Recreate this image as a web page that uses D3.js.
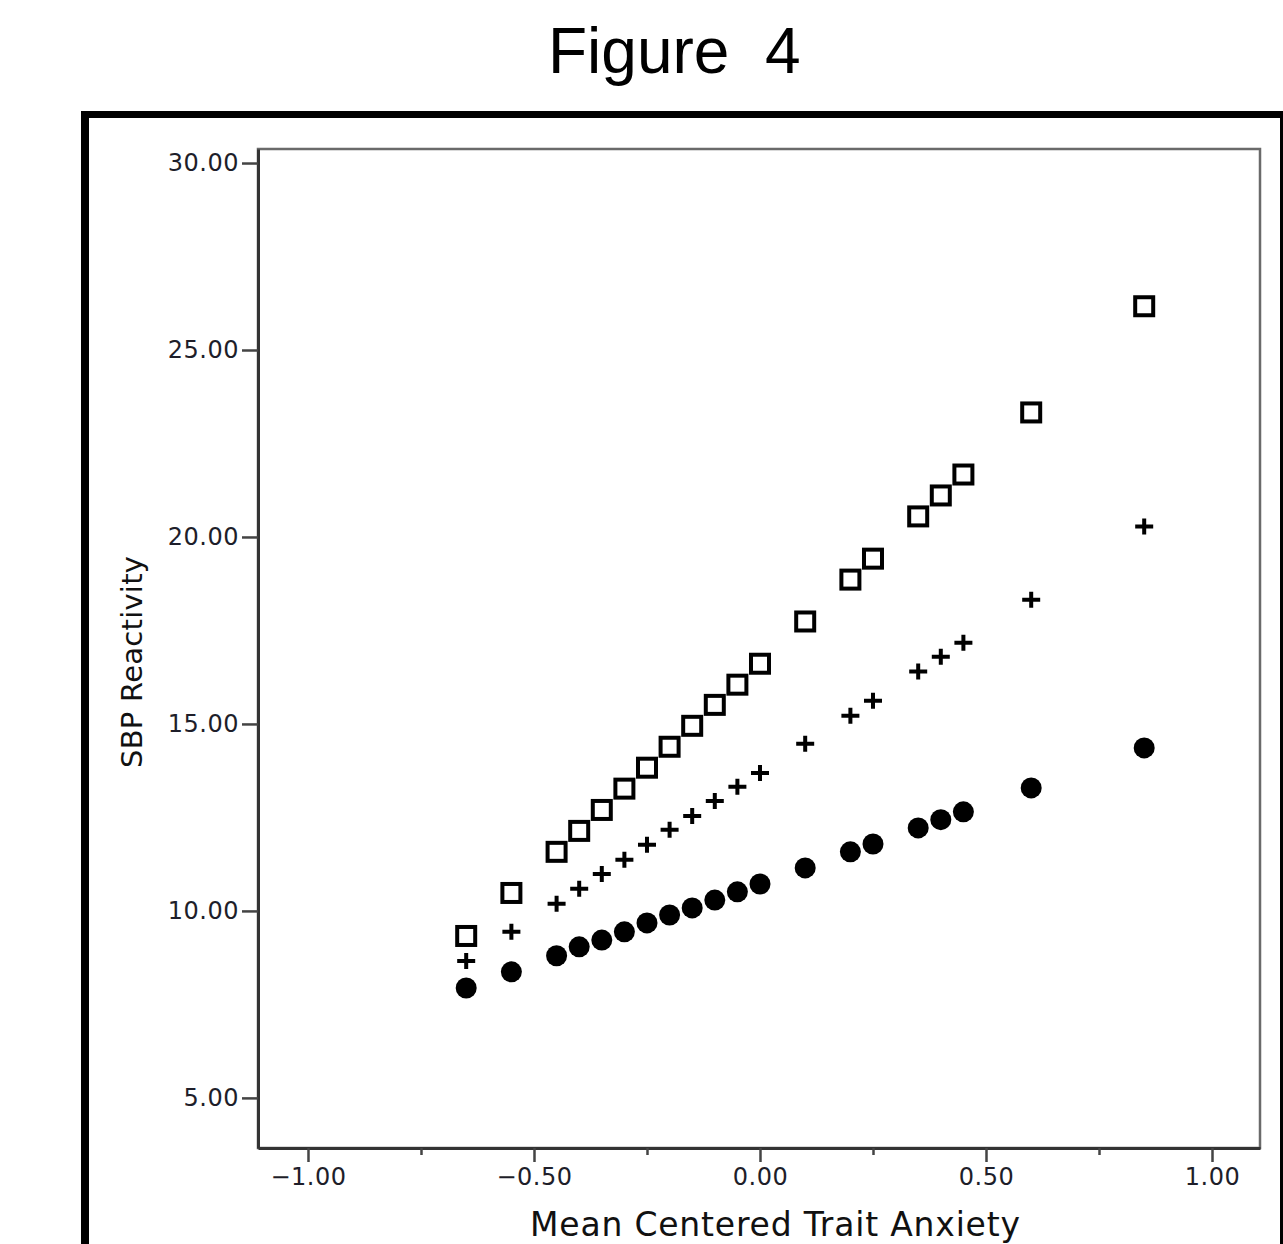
<!DOCTYPE html>
<html>
<head>
<meta charset="utf-8">
<script src="https://d3js.org/d3.v7.min.js"></script>
<style>
  body { margin: 0; background: #fff; }
  svg { display: block; }
</style>
</head>
<body>
<script>
const anxiety = [-0.65, -0.55, -0.45, -0.40, -0.35, -0.30, -0.25, -0.20, -0.15, -0.10,
                 -0.05, 0.00, 0.10, 0.20, 0.25, 0.35, 0.40, 0.45, 0.60, 0.85];
const highSeries = [9.33, 10.48, 11.58, 12.14, 12.70, 13.27, 13.83, 14.39, 14.95, 15.51,
                    16.05, 16.61, 17.74, 18.86, 19.42, 20.55, 21.11, 21.67, 23.33, 26.17];
const midSeries = [8.66, 9.44, 10.19, 10.59, 10.99, 11.37, 11.77, 12.17, 12.54, 12.94,
                   13.32, 13.69, 14.47, 15.22, 15.62, 16.40, 16.80, 17.17, 18.32, 20.28];
const lowSeries = [7.94, 8.37, 8.80, 9.04, 9.22, 9.44, 9.68, 9.89, 10.08, 10.29,
                   10.51, 10.72, 11.15, 11.58, 11.79, 12.22, 12.44, 12.65, 13.29, 14.36];
const yTicks = [5, 10, 15, 20, 25, 30];
const xTicks = [-1, -0.5, 0, 0.5, 1];
const xMinorTicks = [-0.75, -0.25, 0.25, 0.75];

const width = 1283, height = 1244;
const plot = {left: 258, right: 1260, top: 149, bottom: 1148};

const svg = d3.select("body").append("svg")
    .attr("width", width)
    .attr("height", height);

svg.append("rect").attr("width", width).attr("height", height).attr("fill", "#fff");

svg.append("text")
    .attr("x", 548)
    .attr("y", 73)
    .attr("font-family", "'Liberation Sans', Arial, sans-serif")
    .attr("font-size", 64)
    .attr("fill", "#000")
    .style("white-space", "pre")
    .text("Figure  4");

// thick outer frame
const frame = svg.append("g").attr("fill", "#000");
frame.append("rect").attr("x", 81).attr("y", 111).attr("width", 8).attr("height", height - 111);
frame.append("rect").attr("x", 81).attr("y", 111).attr("width", width - 81).attr("height", 7);
frame.append("rect").attr("x", 1280).attr("y", 111).attr("width", 8).attr("height", height - 111);

const x = d3.scaleLinear()
    .domain([-1.1106, 1.1062])
    .range([plot.left, plot.right]);

const y = d3.scaleLinear()
    .domain([3.66, 30.375])
    .range([plot.bottom, plot.top]);

svg.append("rect")
    .attr("x", plot.left)
    .attr("y", plot.top)
    .attr("width", plot.right - plot.left)
    .attr("height", plot.bottom - plot.top)
    .attr("fill", "none")
    .attr("stroke", "#6a6a6a")
    .attr("stroke-width", 2.5);

const fmt = d3.format(".2f");
const tickFont = "'DejaVu Sans', Verdana, sans-serif";

const yAxis = svg.append("g")
    .attr("transform", `translate(${plot.left},0)`)
    .call(d3.axisLeft(y).tickValues(yTicks).tickFormat(fmt).tickSize(16).tickSizeOuter(0).tickPadding(3));

const xAxis = svg.append("g")
    .attr("transform", `translate(0,${plot.bottom})`)
    .call(d3.axisBottom(x).tickValues(xTicks).tickFormat(fmt).tickSize(14).tickSizeOuter(0).tickPadding(6));

svg.append("g")
    .attr("transform", `translate(0,${plot.bottom})`)
    .call(d3.axisBottom(x).tickValues(xMinorTicks).tickFormat("").tickSize(7).tickSizeOuter(0))
    .call(g => g.select(".domain").remove())
    .selectAll("line").attr("stroke", "#444").attr("stroke-width", 2.5);

[yAxis, xAxis].forEach(g => {
  g.select(".domain").attr("stroke", "#333").attr("stroke-width", 3);
  g.selectAll(".tick line").attr("stroke", "#444").attr("stroke-width", 2.5);
  g.selectAll(".tick text")
      .attr("font-family", tickFont)
      .attr("font-size", 24)
      .attr("letter-spacing", 0.5)
      .attr("fill", "#1e1e2a");
});

svg.append("text")
    .attr("x", 530)
    .attr("y", 1236)
    .attr("font-family", tickFont)
    .attr("font-size", 33)
    .attr("textLength", 490)
    .attr("lengthAdjust", "spacing")
    .attr("fill", "#111")
    .text("Mean Centered Trait Anxiety");

svg.append("text")
    .attr("transform", "translate(142,768) rotate(-90)")
    .attr("font-family", tickFont)
    .attr("font-size", 29)
    .attr("textLength", 212)
    .attr("lengthAdjust", "spacing")
    .attr("fill", "#111")
    .text("SBP Reactivity");

const marks = svg.append("g");

marks.append("g")
  .selectAll("circle")
  .data(anxiety)
  .join("circle")
    .attr("cx", d => x(d))
    .attr("cy", (d, i) => y(lowSeries[i]))
    .attr("r", 10.5)
    .attr("fill", "#000");

marks.append("g")
  .selectAll("path")
  .data(anxiety)
  .join("path")
    .attr("transform", (d, i) => `translate(${x(d)},${y(midSeries[i])})`)
    .attr("d", "M-9,0H9M0,-8V8")
    .attr("stroke", "#000")
    .attr("stroke-width", 4)
    .attr("fill", "none");

marks.append("g")
  .selectAll("rect")
  .data(anxiety)
  .join("rect")
    .attr("x", d => x(d) - 9)
    .attr("y", (d, i) => y(highSeries[i]) - 9)
    .attr("width", 18)
    .attr("height", 18)
    .attr("fill", "#fff")
    .attr("stroke", "#000")
    .attr("stroke-width", 4);
</script>
</body>
</html>
